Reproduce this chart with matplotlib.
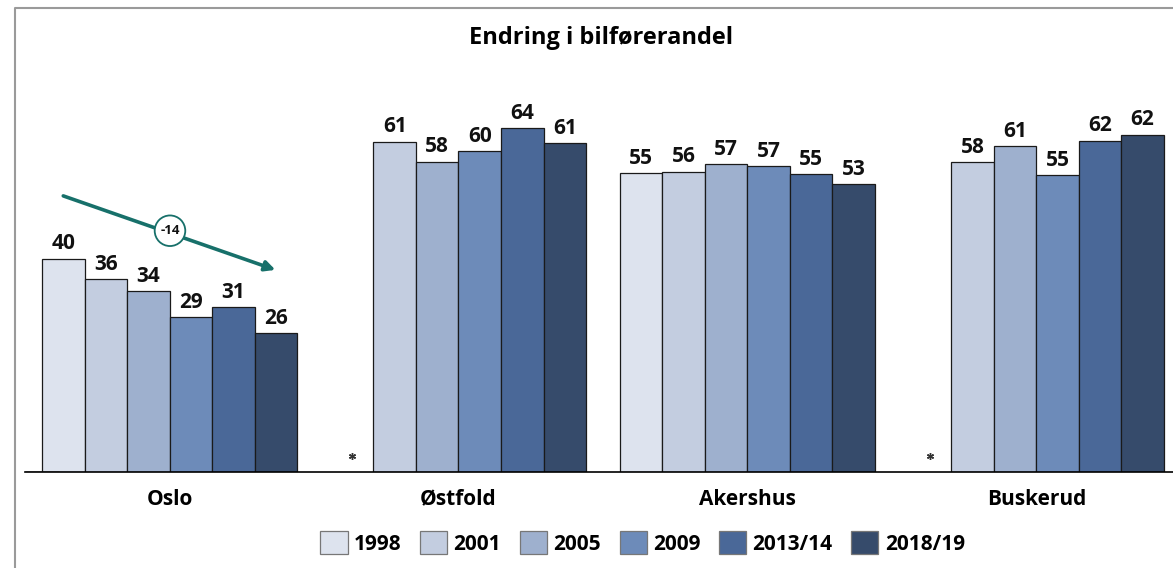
"""Endring i bilførerandel - grouped bars per fylke"""
import numpy as np
import matplotlib.pyplot as plt
from matplotlib.lines import Line2D

regions = ["Oslo", "Østfold", "Akershus", "Buskerud"]
years = ["1998", "2001", "2005", "2009", "2013/14", "2018/19"]
# bar heights, labels as printed (None = no data)
oslo = [39.8, 36.0, 33.8, 28.9, 30.7, 25.9]
ostfold = [None, 61.6, 57.9, 59.9, 64.1, 61.3]
akershus = [55.7, 56.0, 57.4, 57.0, 55.5, 53.7]
buskerud = [None, 57.8, 60.8, 55.4, 61.8, 62.9]
oslo_lbl = [40, 36, 34, 29, 31, 26]
ostfold_lbl = [None, 61, 58, 60, 64, 61]
akershus_lbl = [55, 56, 57, 57, 55, 53]
buskerud_lbl = [None, 58, 61, 55, 62, 62]
oslo_change = "-14"

colors = ["#DDE3EE", "#C3CDE0", "#9EB0CE", "#6D8BB9", "#4A6898", "#364B6B"]
teal = "#17706A"

plt.rcParams["font.family"] = ["Open Sans", "DejaVu Sans"]

fig = plt.figure(figsize=(11.73, 5.68), dpi=100)
ax = fig.add_axes([25 / 1173, 96 / 568, 1148 / 1173, 371 / 568])

series = [oslo, ostfold, akershus, buskerud]
labels = [oslo_lbl, ostfold_lbl, akershus_lbl, buskerud_lbl]
pitch = 6.795
for g, (vals, lbls) in enumerate(zip(series, labels)):
    for j, (v, l) in enumerate(zip(vals, lbls)):
        x = g * pitch + j
        if v is None:
            ax.plot(x + 0.5, 3.0, marker=(6, 2, 0), markersize=5,
                    color="#333333", markeredgewidth=1.0)
            continue
        ax.bar(x, v, width=1.0, align="edge", color=colors[j],
               edgecolor="#1a1a1a", linewidth=0.9)
        ax.text(x + 0.5, v + 0.8, str(l), ha="center", va="bottom",
                fontsize=15, fontweight="bold", color="#111111")

# legend handles
for j, y in enumerate(years):
    ax.bar(0, 0, color=colors[j], edgecolor="#777777", linewidth=0.9, label=y)

ax.set_xlim(-0.4, 26.6)
ax.set_ylim(0, 69.2)
ax.set_xticks([g * pitch + 3 for g in range(4)])
ax.set_xticklabels(regions, fontsize=15, fontweight="bold")
ax.tick_params(axis="x", length=0, pad=12)
ax.set_yticks([])
for s in ["top", "left", "right"]:
    ax.spines[s].set_visible(False)
ax.spines["bottom"].set_linewidth(1.2)

# trend arrow for Oslo
ax.annotate("", xy=(5.49, 37.7), xytext=(0.50, 51.5),
            arrowprops=dict(arrowstyle="-|>", color=teal, lw=2.6,
                            mutation_scale=15, shrinkA=0, shrinkB=0))
ax.text(3.01, 45.0, oslo_change, ha="center", va="center", fontsize=9.5,
        fontweight="bold", color="#111111",
        bbox=dict(boxstyle="circle,pad=0.42", facecolor="white", edgecolor=teal, lw=1.3))

ax.legend(loc="center", bbox_to_anchor=(0.538, -0.191), ncol=6, frameon=False,
          prop=dict(size=15, weight="bold"), handlelength=1.3, handleheight=1.3,
          handletextpad=0.3, columnspacing=0.9)

fig.text(601 / 1173, 0.933, "Endring i bilførerandel", ha="center", va="center",
         fontsize=17, fontweight="bold")

# outer frame (partly cut in the original)
fig.add_artist(Line2D([15 / 1173, 15 / 1173, 1.0], [0.0, 1 - 8 / 568, 1 - 8 / 568],
                      transform=fig.transFigure, color="#9a9a9a", lw=1.5))

fig.savefig("out.png", dpi=100)
